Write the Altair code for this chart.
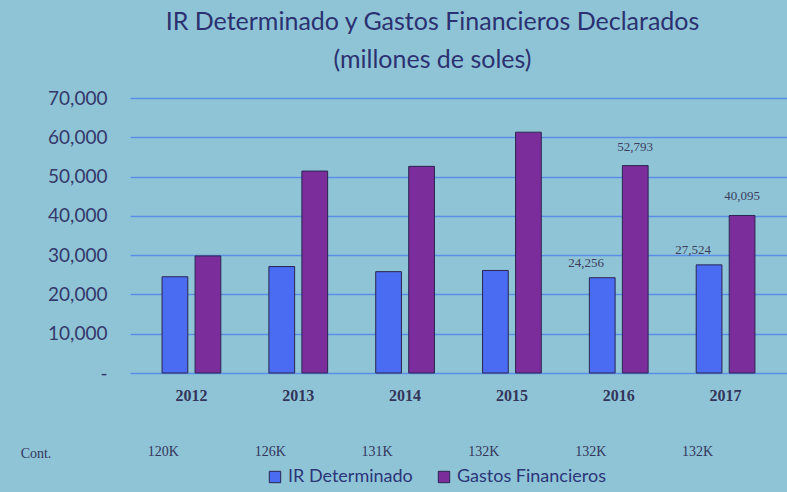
import altair as alt
import pandas as pd

years = ["2012", "2013", "2014", "2015", "2016", "2017"]
ir_values = [24500, 27100, 25800, 26100, 24256, 27524]
gastos_values = [29800, 51400, 52600, 61300, 52793, 40095]
ir_labels = ["", "", "", "", "24,256", "27,524"]
gastos_labels = ["", "", "", "", "52,793", "40,095"]
cont_values = ["120K", "126K", "131K", "132K", "132K", "132K"]
series_names = ["IR Determinado", "Gastos Financieros"]
series_colors = ["#4a6cf2", "#7b2e9b"]
y_ticks = [0, 10000, 20000, 30000, 40000, 50000, 60000, 70000]

rows = []
for i, y in enumerate(years):
    rows.append({"year": y, "series": series_names[0], "value": ir_values[i], "label": ir_labels[i]})
    rows.append({"year": y, "series": series_names[1], "value": gastos_values[i], "label": gastos_labels[i]})
df = pd.DataFrame(rows)
cont_df = pd.DataFrame({"year": years, "cont": cont_values})

BG = "#8fc4d7"
TXT = "#2b3170"

xscale = alt.Scale(domain=years, paddingInner=0.45, paddingOuter=0.3)
x = alt.X("year:N", scale=xscale, sort=years,
          axis=alt.Axis(title=None, labelAngle=0, ticks=False, domain=False,
                        labelFont="Liberation Serif", labelFontSize=16,
                        labelColor="#33355a", labelPadding=14, labelFontWeight="bold"))
xoff = alt.XOffset("series:N", sort=series_names,
                   scale=alt.Scale(domain=series_names, paddingInner=0.22, paddingOuter=0))
yenc = alt.Y("value:Q", scale=alt.Scale(domain=[0, 70000], nice=False),
             axis=alt.Axis(title=None, values=y_ticks, labelOverlap=False,
                           labelExpr="datum.value == 0 ? '-' : format(datum.value, ',')",
                           ticks=False, domain=False, labelFont="Lato", labelFontSize=19,
                           labelColor="#34386a", labelPadding=23,
                           grid=True, gridColor="#5b8ee6", gridWidth=1.5))

bars = alt.Chart(df).mark_bar(stroke="#2a2550", strokeWidth=1).encode(
    x=x, xOffset=xoff, y=yenc,
    color=alt.Color("series:N", sort=series_names,
                    scale=alt.Scale(domain=series_names, range=series_colors),
                    legend=alt.Legend(title=None, orient="none", legendX=136, legendY=370,
                                      direction="horizontal", labelFont="Lato", labelFontSize=18,
                                      labelColor="#2b3577", symbolType="square", symbolSize=130,
                                      symbolStrokeColor="#2a2550", symbolStrokeWidth=1,
                                      columnPadding=22, labelOffset=4))
)

lbl_ir = alt.Chart(df[df["series"] == series_names[0]]).mark_text(
    font="Liberation Serif", fontSize=13, color="#3a3d5c", baseline="bottom", dy=-8, dx=-16
).encode(x=x, xOffset=xoff, y=yenc, text="label:N")

lbl_g = alt.Chart(df[df["series"] == series_names[1]]).mark_text(
    font="Liberation Serif", fontSize=13, color="#3a3d5c", baseline="bottom", dy=-12
).encode(x=x, xOffset=xoff, y=yenc, text="label:N")

cont_txt = alt.Chart(cont_df).mark_text(
    font="Liberation Serif", fontSize=14, color="#33355a", dx=-28
).encode(x=alt.X("year:N", scale=xscale, sort=years), y=alt.value(354), text="cont:N")

cont_head = alt.Chart(pd.DataFrame({"t": ["Cont."]})).mark_text(
    font="Liberation Serif", fontSize=14, color="#33355a"
).encode(x=alt.value(-94), y=alt.value(356), text="t:N")

chart = alt.layer(bars, lbl_ir, lbl_g, cont_txt, cont_head).properties(
    width=657, height=275,
    autosize=alt.AutoSizeParams(type="none"),
    padding={"left": 130, "top": 98, "right": 0, "bottom": 119},
    background=BG,
    title=alt.TitleParams(
        text=["IR Determinado y Gastos Financieros Declarados", "(millones de soles)"],
        font="Lato", fontSize=25, fontWeight="normal", color=TXT,
        anchor="middle", dx=-26, offset=16, lineHeight=38),
).configure_view(stroke=None)

chart.save("out.html", embed_options={"renderer": "svg", "actions": False})
